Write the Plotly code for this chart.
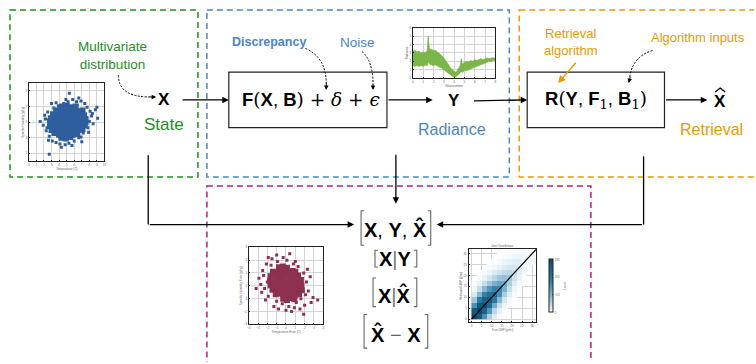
import plotly.graph_objects as go

W, H = 756, 364

# ---------------- data ----------------
# prior state sample: temperature vs specific humidity (dense core + sparse tail)
state_core = [
    (4.3, 3.0), (4.9, 2.9), (5.5, 3.1),
    (3.4, 3.6), (4.0, 3.4), (4.6, 3.5), (5.2, 3.6), (5.8, 3.4), (6.4, 3.5),
    (3.0, 4.0), (3.6, 4.1), (4.2, 3.9), (4.8, 4.0), (5.4, 4.1), (6.0, 3.9), (6.6, 4.0), (7.1, 4.1),
    (2.8, 4.5), (3.4, 4.4), (4.0, 4.6), (4.6, 4.5), (5.2, 4.4), (5.8, 4.6), (6.4, 4.5), (7.0, 4.4), (7.4, 4.6),
    (2.8, 5.1), (3.3, 4.9), (3.9, 5.0), (4.5, 5.1), (5.1, 4.9), (5.7, 5.0), (6.3, 5.1), (6.9, 4.9), (7.5, 5.0),
    (2.9, 5.5), (3.5, 5.6), (4.1, 5.4), (4.7, 5.5), (5.3, 5.6), (5.9, 5.4), (6.5, 5.5), (7.1, 5.6), (7.5, 5.4),
    (3.2, 6.0), (3.8, 5.9), (4.4, 6.1), (5.0, 6.0), (5.6, 5.9), (6.2, 6.1), (6.8, 6.0), (7.3, 5.9),
    (3.6, 6.5), (4.2, 6.6), (4.8, 6.4), (5.4, 6.5), (6.0, 6.6), (6.6, 6.4), (7.1, 6.5),
    (4.4, 7.0), (5.0, 7.1), (5.6, 6.9), (6.2, 7.0),
]
state_tail = [
    (1.9, 4.6), (2.2, 5.4), (2.3, 3.9), (2.5, 6.3), (2.7, 3.2), (3.1, 2.6), (3.6, 2.4), (4.1, 2.2),
    (4.8, 2.1), (5.3, 2.3), (6.0, 2.6), (6.6, 3.0), (7.2, 3.6), (7.8, 4.3), (8.0, 5.1), (8.3, 5.8),
    (8.1, 6.4), (7.7, 6.9), (8.8, 6.6), (9.0, 6.9), (7.4, 7.4), (6.9, 7.7), (6.3, 7.6), (5.8, 7.9),
    (5.2, 7.6), (4.6, 7.4), (3.9, 7.1), (3.3, 6.8), (5.35, 8.7), (6.6, 8.1), (2.7, 0.9), (1.5, 5.1),
    (4.3, 1.8), (7.0, 2.5), (9.1, 5.5), (3.0, 7.4), (8.5, 4.8), (2.4, 4.3), (7.9, 3.7), (4.9, 7.9),
    (2.1, 5.9), (6.9, 3.1), (3.6, 7.5), (8.4, 6.1), (5.7, 2.0), (2.6, 2.7),
]

# simulated radiance spectrum (noise envelope)
spec_x = [0.0, 0.2, 0.4, 0.6, 0.8, 1.0, 1.2, 1.4, 1.5, 1.6, 1.8, 2.0, 2.2, 2.4, 2.6, 2.8, 3.0,
          3.2, 3.4, 3.6, 3.8, 4.0, 4.2, 4.4, 4.6, 4.7, 4.8, 5.0, 5.2, 5.4, 5.6, 5.8, 6.0,
          6.2, 6.4, 6.6, 6.8, 7.0, 7.2, 7.4, 7.6, 7.8, 8.0]
spec_hi = [3.2, 3.3, 3.1, 3.2, 3.0, 3.1, 3.0, 3.3, 5.0, 3.5, 3.4, 3.3, 3.3, 3.1, 3.0, 2.7, 2.4,
           2.1, 1.7, 1.3, 1.0, 0.8, 0.7, 1.1, 1.5, 2.3, 1.6, 1.9, 2.0, 1.9, 2.1, 2.0, 2.2,
           2.1, 2.2, 2.3, 2.2, 2.3, 2.4, 2.3, 2.4, 2.4, 2.4]
spec_lo = [1.5, 1.4, 1.5, 1.4, 1.5, 1.4, 1.6, 1.5, 2.0, 1.7, 1.6, 1.5, 1.6, 1.4, 1.3, 1.2, 1.0,
           0.8, 0.6, 0.4, 0.25, 0.15, 0.2, 0.4, 0.6, 0.8, 0.7, 0.9, 0.9, 1.0, 1.1, 1.2, 1.3,
           1.4, 1.5, 1.6, 1.7, 1.8, 1.9, 2.0, 2.0, 2.1, 2.1]

# retrieval error sample: temperature error vs humidity error
error_core = [
    (-0.3, -1.0), (0.1, -1.1), (0.5, -0.95), (0.9, -1.05),
    (-1.1, -0.65), (-0.7, -0.6), (-0.25, -0.7), (0.2, -0.65), (0.6, -0.6), (1.0, -0.7), (1.4, -0.65),
    (-1.45, -0.3), (-1.0, -0.25), (-0.6, -0.35), (-0.2, -0.3), (0.2, -0.25), (0.6, -0.35), (1.05, -0.3), (1.45, -0.25), (1.7, -0.35),
    (-1.65, 0.05), (-1.25, 0.1), (-0.8, 0.0), (-0.4, 0.05), (0.0, 0.1), (0.4, 0.0), (0.85, 0.05), (1.25, 0.1), (1.65, 0.0),
    (-1.7, 0.4), (-1.3, 0.35), (-0.85, 0.45), (-0.45, 0.4), (0.0, 0.35), (0.4, 0.45), (0.8, 0.4), (1.2, 0.35), (1.6, 0.45),
    (-1.65, 0.75), (-1.25, 0.8), (-0.8, 0.7), (-0.4, 0.75), (0.0, 0.8), (0.45, 0.7), (0.85, 0.75), (1.3, 0.8),
    (-1.4, 1.1), (-1.0, 1.05), (-0.55, 1.15), (-0.15, 1.1), (0.3, 1.05), (0.7, 1.15), (1.0, 1.1),
    (-0.75, 1.45), (-0.35, 1.5), (0.1, 1.4),
]
error_tail = [
    (-3.2, -0.2), (-2.9, 0.6), (-2.5, 1.2), (-2.3, -0.2), (-2.1, 1.7), (-1.9, 2.2), (-1.9, -0.8), (-1.5, 2.1),
    (-1.0, 2.4), (-0.9, 1.9), (-0.3, 2.2), (0.1, 2.0), (0.4, 2.5), (0.8, 1.7), (1.3, 1.5), (1.9, 1.0),
    (2.2, 0.3), (2.4, -0.4), (2.9, -0.9), (3.4, -1.1), (2.0, -1.5), (1.5, -1.8), (0.9, -1.7), (0.3, -1.6),
    (-0.4, -1.4), (-1.0, -1.2), (1.9, -2.2), (2.6, 0.7), (-2.6, -0.5), (-2.0, 0.3), (2.1, -0.7), (0.6, -2.0),
    (-1.3, -1.6), (2.7, -1.3), (-2.4, 0.8), (1.1, -1.3), (-2.2, -1.1), (2.3, 1.3), (-1.6, 1.6), (0.0, -1.9),
    (1.6, -1.0), (-2.7, 0.1), (1.0, 1.9), (-0.8, -1.8),
]

# joint distribution of true vs retrieved values (bin centres and counts)
hist_bins = [1.25, 3.75, 6.25, 8.75, 11.25, 13.75, 16.25, 18.75, 21.25, 23.75, 26.25, 28.75, 31.25]
hist_counts = [
    [300, 260, 150, 60, 20, 5, 0, 0, 0, 0, 0, 0, 0],
    [260, 300, 240, 140, 50, 15, 3, 0, 0, 0, 0, 0, 0],
    [150, 260, 280, 220, 110, 40, 10, 2, 0, 0, 0, 0, 0],
    [70, 180, 240, 250, 190, 90, 30, 6, 1, 0, 0, 0, 0],
    [25, 90, 170, 210, 220, 150, 60, 18, 4, 0, 0, 0, 0],
    [8, 40, 90, 140, 170, 160, 100, 40, 10, 2, 0, 0, 0],
    [2, 12, 40, 70, 100, 120, 110, 60, 22, 6, 1, 0, 0],
    [0, 4, 14, 30, 50, 70, 80, 70, 35, 12, 3, 0, 0],
    [0, 1, 5, 10, 20, 35, 45, 50, 40, 18, 6, 1, 0],
    [0, 0, 1, 4, 8, 14, 22, 28, 30, 22, 10, 3, 0],
    [0, 0, 0, 1, 3, 6, 10, 14, 18, 18, 12, 5, 1],
    [0, 0, 0, 0, 1, 2, 4, 6, 9, 10, 9, 5, 2],
    [0, 0, 0, 0, 0, 1, 1, 2, 3, 4, 5, 4, 2],
]
one_to_one = [0, 32]

# ---------------- styling ----------------
GREEN = "#1f8f1f"
BLUE = "#4a86c5"
ORANGE = "#e69b00"
MAGENTA = "#c2187f"
SANS = "Liberation Sans, Arial, sans-serif"
SERIF = "DejaVu Serif"


def dom(x0, x1, y0, y1):
    return [x0 / W, x1 / W], [1 - y1 / H, 1 - y0 / H]


def mini_axis(domain, rng, dtick, title, tick0=0):
    return dict(
        domain=domain, range=rng, dtick=dtick, tick0=tick0,
        showgrid=True, gridcolor="#d4d4d4", gridwidth=0.6, zeroline=False,
        showline=True, linecolor="#222", linewidth=1, mirror=True,
        ticks="inside", ticklen=1.5, tickwidth=0.5, tickcolor="#222",
        tickfont=dict(size=3, color="#666", family=SANS),
        title=dict(text=title, font=dict(size=3, color="#666", family=SANS), standoff=1),
        fixedrange=True,
    )


fig = go.Figure()


def cloud(pts, size, color, xa, ya):
    fig.add_trace(go.Scatter(
        x=[p[0] for p in pts], y=[p[1] for p in pts], mode="markers",
        marker=dict(symbol="square", size=size, color=color, line=dict(width=0)),
        xaxis=xa, yaxis=ya, hoverinfo="skip"))


# prior state scatter
cloud(state_core, 6, "#2e5e9e", "x2", "y2")
cloud(state_tail, 3, "#2e5e9e", "x2", "y2")

# spectrum band
fig.add_trace(go.Scatter(x=spec_x, y=spec_lo, mode="lines", line=dict(color="#7ab648", width=0.8),
                         xaxis="x3", yaxis="y3", hoverinfo="skip"))
fig.add_trace(go.Scatter(x=spec_x, y=spec_hi, mode="lines", line=dict(color="#7ab648", width=0.8),
                         fill="tonexty", fillcolor="#7ab648", xaxis="x3", yaxis="y3", hoverinfo="skip"))

# error scatter
cloud(error_core, 6, "#8e3050", "x4", "y4")
cloud(error_tail, 3, "#8e3050", "x4", "y4")

# joint distribution
z = [[(c if c > 0 else None) for c in row] for row in hist_counts]
fig.add_trace(go.Heatmap(
    x=hist_bins, y=hist_bins, z=z, zmin=0, zmax=300,
    colorscale=[[0, "#ffffff"], [0.05, "#e6f0f6"], [0.3, "#86b7d3"], [0.6, "#2b7ba4"], [1, "#08496e"]],
    xaxis="x5", yaxis="y5", hoverinfo="skip",
    colorbar=dict(x=540 / W, xanchor="left", y=1 - 324 / H, yanchor="bottom",
                  len=(324 - 250) / H, lenmode="fraction", thickness=4,
                  outlinecolor="#222", outlinewidth=1, ticks="inside", ticklen=1,
                  tickfont=dict(size=3, color="#666"),
                  title=dict(text="Count", side="right", font=dict(size=3, color="#666")))))
fig.add_trace(go.Scatter(x=one_to_one, y=one_to_one, mode="lines", line=dict(color="black", width=1.2),
                         xaxis="x5", yaxis="y5", hoverinfo="skip"))

dx2, dy2 = dom(27, 103, 82, 161)
dx3, dy3 = dom(413, 496, 26, 77)
dx4, dy4 = dom(248, 323, 248, 326)
dx5, dy5 = dom(469, 537, 250, 324)

fig.update_layout(
    width=W, height=H, margin=dict(l=0, r=0, t=0, b=0), autosize=False,
    paper_bgcolor="white", plot_bgcolor="white", showlegend=False,
    xaxis=dict(domain=[0, 1], range=[0, W], visible=False, fixedrange=True),
    yaxis=dict(domain=[0, 1], range=[H, 0], visible=False, fixedrange=True),
    xaxis2=mini_axis(dx2, [0, 10], 1, "Temperature [C]") | dict(anchor="y2"),
    yaxis2=mini_axis(dy2, [0, 10], 2, "Specific Humidity [g/kg]", tick0=1) | dict(anchor="x2"),
    xaxis3=mini_axis(dx3, [0, 8], 1, "Wavenumber") | dict(anchor="y3"),
    yaxis3=mini_axis(dy3, [0, 6], 1, "Radiance") | dict(anchor="x3"),
    xaxis4=mini_axis(dx4, [-4, 4], 1, "Temperature Error [C]") | dict(anchor="y4"),
    yaxis4=mini_axis(dy4, [-3, 3], 1, "Specific Humidity Error [g/kg]") | dict(anchor="x4"),
    xaxis5=mini_axis(dx5, [-1.5, 32], 5, "True LWP [g/m²]") | dict(anchor="y5"),
    yaxis5=mini_axis(dy5, [-1.5, 32], 5, "Retrieved LWP [g/m²]") | dict(anchor="x5"),
)

shapes = []


def dashed_box(x0, y0, x1, y1, color):
    shapes.append(dict(type="rect", xref="x", yref="y", x0=x0, y0=y0, x1=x1, y1=y1,
                       line=dict(color=color, width=1.5, dash="6px,4px"), layer="below"))


dashed_box(8, 8, 197, 177, GREEN)
dashed_box(206, 8, 510, 177, BLUE)
dashed_box(520, 8, 770, 177, ORANGE)
dashed_box(206, 186, 592, 380, MAGENTA)

# process boxes
for x0, x1 in [(228, 387), (528, 666)]:
    shapes.append(dict(type="rect", xref="x", yref="y", x0=x0, y0=71, x1=x1, y1=127,
                       line=dict(color="#222", width=1.2), fillcolor="white"))

# connector lines
for x0, y0, x1, y1 in [(147, 155, 147, 225), (645, 156, 645, 225)]:
    shapes.append(dict(type="line", xref="x", yref="y", x0=x0, y0=y0, x1=x1, y1=y1,
                       line=dict(color="black", width=1.3)))

# dotted curved pointers
for path in ["M 117 74 Q 117 96 148 96", "M 305 47 Q 326 56 326 83",
             "M 362 50 Q 373 60 373 83", "M 654 49 Q 634 55 631 76"]:
    shapes.append(dict(type="path", xref="x", yref="y", path=path,
                       line=dict(color="black", width=1, dash="2px,1.5px")))


def bracket(xl, xr, y0, y1, s=3):
    for x, d in [(xl, s), (xr, -s)]:
        shapes.append(dict(type="path", xref="x", yref="y",
                           path=f"M {x + d} {y0} L {x} {y0} L {x} {y1} L {x + d} {y1}",
                           line=dict(color="#666", width=1.1)))


bracket(361, 431, 211, 246)
bracket(375, 417, 251, 268)
bracket(373, 417, 279, 308)
bracket(364, 428, 316, 350)

# hat above the retrieved state symbol
shapes.append(dict(type="path", xref="x", yref="y", path="M 717 91 L 722 87 L 727 91",
                   line=dict(color="black", width=1.3)))

fig.update_layout(shapes=shapes)

ann = []


def arrow(x, y, ax, ay, color="black", width=1.3, size=1.0):
    ann.append(dict(x=x, y=y, ax=ax, ay=ay, xref="x", yref="y", axref="x", ayref="y",
                    text="", showarrow=True, arrowhead=2, arrowsize=size, arrowwidth=width,
                    arrowcolor=color, standoff=0, startstandoff=0))


arrow(228, 99, 180, 99)
arrow(433, 99, 387, 99)
arrow(528, 99, 473, 100)
arrow(709, 99, 666, 99)
arrow(354, 225, 147, 225)
arrow(396, 204, 396, 153)
arrow(437, 225, 645, 225)
arrow(559, 82, 578, 60, color=ORANGE, width=1.5)
# heads of the dotted pointers
arrow(155, 96, 146, 96, width=1, size=0.9)
arrow(326, 89, 326, 81, width=1, size=0.9)
arrow(373, 89, 373, 81, width=1, size=0.9)
arrow(630, 82, 632, 74, width=1, size=0.9)


def text(x, y, s, size, color="black", family=SANS):
    ann.append(dict(x=x, y=y, xref="x", yref="y", text=s, showarrow=False,
                    xanchor="center", yanchor="middle",
                    font=dict(size=size, color=color, family=family)))


sv = f"style='font-family:{SERIF}'"
text(111, 54, "Multivariate<br>distribution", 13.5, GREEN)
text(163, 99, "<b>X</b>", 17)
text(163, 124, "State", 17, GREEN)
text(268, 40, "<b>Discrepancy</b>", 12.5, BLUE)
text(357, 41, "Noise", 13.5, BLUE)
text(311, 99, f"<b>F</b><span {sv}>(</span><b>X</b>, <b>B</b><span {sv}>) + <i>δ</i> + <i>ϵ</i></span>", 18.5)
text(454, 100, "<b>Y</b>", 17)
text(452, 129, "Radiance", 16, BLUE)
text(572, 40, "Retrieval<br>algorithm", 13, ORANGE)
text(700, 36, "Algorithm inputs", 13, ORANGE)
text(597, 99, f"<b>R</b><span {sv}>(</span><b>Y</b>, <b>F</b><sub><span {sv}>1</span></sub>, "
              f"<b>B</b><sub><span {sv}>1</span></sub><span {sv}>)</span>", 18.5)
text(722, 101, "<b>X</b>", 17)
text(713, 129, "Retrieval", 16, ORANGE)

text(396, 230, "<b>X</b>, <b>Y</b>, <b>X\u0302</b>", 20)
text(396, 260, "<b>X</b><span style='color:#777'>|</span><b>Y</b>", 20)
text(395, 296, "<b>X</b><span style='color:#777'>|</span><b>X\u0302</b>", 20)
text(396, 336, "<b>X\u0302</b> <span style='color:#666'>\u2212</span> <b>X</b>", 20)

# tiny title over the joint histogram
text(503, 247, "Joint Distribution", 3, "#666")

fig.update_layout(annotations=ann)

fig.write_html("out.html")
